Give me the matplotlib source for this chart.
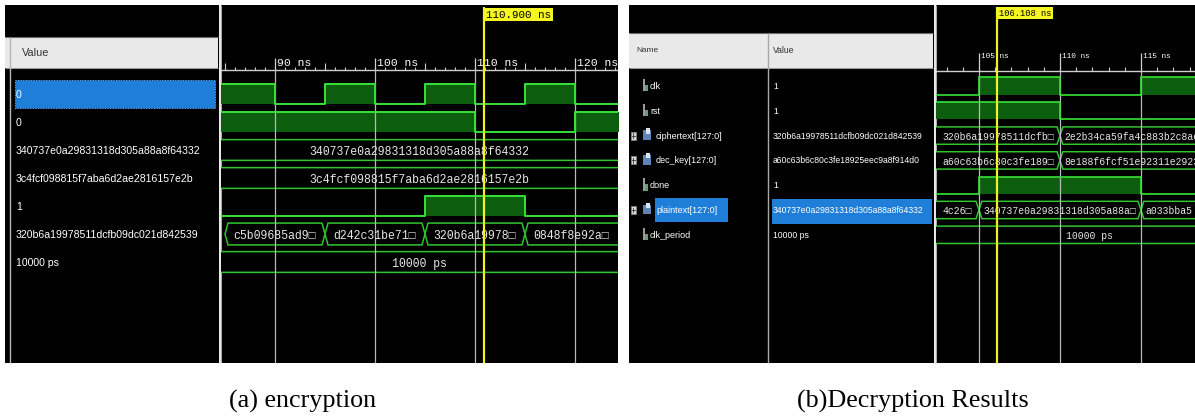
import numpy as np
import matplotlib
matplotlib.use("Agg")
import matplotlib.pyplot as plt
from matplotlib.patches import Rectangle, Polygon

# ---------------- (a) encryption ----------------
enc_values = ["0", "0", "340737e0a29831318d305a88a8f64332",
              "3c4fcf098815f7aba6d2ae2816157e2b", "1",
              "320b6a19978511dcfb09dc021d842539", "10000 ps"]
enc_clk_t = [80, 90, 95, 100, 105, 110, 115, 120, 130]
enc_clk_v = [1, 0, 1, 0, 1, 0, 1, 0]
enc_rst_t = [80, 110, 120, 130]
enc_rst_v = [1, 0, 1]
enc_done_t = [80, 105, 115, 130]
enc_done_v = [0, 1, 0]
enc_plain_t = [80, 130]
enc_plain_lbl = ["340737e0a29831318d305a88a8f64332"]
enc_key_t = [80, 130]
enc_key_lbl = ["3c4fcf098815f7aba6d2ae2816157e2b"]
enc_cipher_t = [85, 95, 105, 115, 125]
enc_cipher_lbl = ["c5b09685ad9\u25a1", "d242c31be71\u25a1",
                  "320b6a19978\u25a1", "0848f8e92a\u25a1"]
enc_period_t = [80, 130]
enc_period_lbl = ["10000 ps"]
enc_ticks = [90, 100, 110, 120]
enc_cursor = 110.9

# ---------------- (b) decryption ----------------
dec_names = ["clk", "rst", "ciphertext[127:0]", "dec_key[127:0]", "done",
             "plaintext[127:0]", "clk_period"]
dec_values = ["1", "1", "320b6a19978511dcfb09dc021d842539",
              "a60c63b6c80c3fe18925eec9a8f914d0", "1",
              "340737e0a29831318d305a88a8f64332", "10000 ps"]
dec_is_bus = [False, False, True, True, False, True, False]
dec_clk_t = [100, 105, 110, 115, 120, 125]
dec_clk_v = [0, 1, 0, 1, 0]
dec_rst_t = [100, 110, 125]
dec_rst_v = [1, 0]
dec_done_t = [100, 105, 115, 125]
dec_done_v = [0, 1, 0]
dec_cipher_t = [95, 110, 125]
dec_cipher_lbl = ["320b6a19978511dcfb\u25a1", "2e2b34ca59fa4c883b2c8ae"]
dec_key_t = [95, 110, 125]
dec_key_lbl = ["a60c63b6c80c3fe189\u25a1", "8e188f6fcf51e92311e2923"]
dec_plain_t = [95, 105, 115, 125]
dec_plain_lbl = ["4c26\u25a1", "340737e0a29831318d305a88a\u25a1", "a033bba5"]
dec_period_t = [95, 125]
dec_period_lbl = ["10000 ps"]
dec_ticks = [105, 110, 115]
dec_cursor = 106.108

# ---------------- styling ----------------
W, H = 1195, 417
SANS = ["Liberation Sans", "DejaVu Sans"]
MONO = ["Liberation Mono", "DejaVu Sans Mono"]
SERIF = ["Liberation Serif", "DejaVu Serif"]
LINE_G = "#36e236"
FILL_G = "#0c5e0e"
BUS_G = "#2fc52f"
RULER_C = "#cfcfcf"
GRID_C = "#b8b8b8"
CURSOR_C = "#f2f21c"
WAVE_TXT = "#e6e6e6"

fig = plt.figure(figsize=(W / 100, H / 100), dpi=100)
fig.patch.set_facecolor("white")


def px_axes(x0, y0, x1, y1):
    ax = fig.add_axes([x0 / W, 1 - y1 / H, (x1 - x0) / W, (y1 - y0) / H])
    ax.set_axis_off()
    return ax


canvas = px_axes(0, 0, W, H)
canvas.set_xlim(0, W)
canvas.set_ylim(H, 0)


def rect(x0, y0, x1, y1, **kw):
    kw.setdefault("lw", 0)
    canvas.add_patch(Rectangle((x0, y0), x1 - x0, y1 - y0, **kw))


def hline(x0, x1, y, **kw):
    canvas.plot([x0, x1], [y, y], solid_capstyle="butt", **kw)


def vline(x, y0, y1, **kw):
    canvas.plot([x, x], [y0, y1], solid_capstyle="butt", **kw)


# window chrome for (a)
rect(5, 5, 219, 363, fc="black")
rect(5, 37, 218, 68, fc="#e9e9e9")
hline(5, 218, 36.5, color="#6a6a6a", lw=0.8)
hline(5, 218, 68, color="#9a9a9a", lw=0.8)
vline(10, 37, 363, color="#b8b8b8", lw=1.0)
vline(219.8, 5, 363, color="#e4e4e4", lw=1.8)
rect(221, 5, 618, 363, fc="black")
canvas.text(22, 52.5, "Value", color="#333333", fontsize=7.8, family=SANS, va="center")

# window chrome for (b)
rect(629, 5, 934, 363, fc="black")
rect(629, 33, 933, 68, fc="#e9e9e9")
hline(629, 933, 32.5, color="#6a6a6a", lw=0.8)
hline(629, 933, 68, color="#9a9a9a", lw=0.8)
vline(768, 33, 363, color="#a8a8a8", lw=1.0)
vline(934.8, 5, 363, color="#e4e4e4", lw=1.8)
rect(936, 5, W, 363, fc="black")
canvas.text(636, 50.5, "Name", color="#333333", fontsize=6.0, family=SANS, va="center")
canvas.text(773, 50.5, "Value", color="#333333", fontsize=6.2, family=SANS, va="center")

# captions
canvas.text(303, 401, "(a) encryption", ha="center", va="center", fontsize=18.8, family=SERIF)
canvas.text(913, 401, "(b)Decryption Results", ha="center", va="center", fontsize=18.8, family=SERIF)


# ---------------- helpers for the wave views ----------------
def draw_bit(ax, row, t, v, h, lw=1.4):
    t = np.asarray(t, float)
    lv = np.append(np.asarray(v, float), v[-1])
    y = row + h - 2 * h * lv
    ax.fill_between(t, row + h, y, step="post", color=FILL_G, lw=0)
    ax.step(t, y, where="post", color=LINE_G, lw=lw)


def draw_bus(ax, row, t, labels, h, slope, pad, fontsize, lw=1.1):
    v0, v1 = ax.get_xlim()
    for t0, t1, lbl in zip(t[:-1], t[1:], labels):
        pts = [(t0, row), (t0 + slope, row - h), (t1 - slope, row - h),
               (t1, row), (t1 - slope, row + h), (t0 + slope, row + h)]
        ax.add_patch(Polygon(pts, closed=True, fc="black", ec=BUS_G, lw=lw))
        vs, ve = max(t0, v0), min(t1, v1)
        if t0 >= v0 and t1 > v1:
            x, ha = t0 + pad, "left"
        else:
            x, ha = (vs + ve) / 2, "center"
        ax.text(x, row + 0.02, lbl, ha=ha, va="center_baseline", color=WAVE_TXT,
                fontsize=fontsize, family=MONO, clip_on=True)


def draw_ruler(ax, base, ticks, minor_top, mid_top, major_top, lab_y, lab_dx, fontsize, bottom):
    v0, v1 = ax.get_xlim()
    ax.plot([v0, v1], [base, base], color=RULER_C, lw=1.0)
    minor = np.arange(np.ceil(v0), np.floor(v1) + 1)
    ax.vlines(minor, minor_top, base, color=RULER_C, lw=0.8)
    if mid_top is not None:
        mids = [m for m in minor if m % 5 == 0 and m % 10 != 0]
        ax.vlines(mids, mid_top, base, color=RULER_C, lw=0.8)
    ax.vlines(ticks, major_top, base, color=RULER_C, lw=0.9)
    ax.vlines(ticks, base, bottom, color=GRID_C, lw=0.9)
    for tk in ticks:
        ax.text(tk + lab_dx, lab_y, f"{tk} ns", color="white", fontsize=fontsize,
                family=MONO, va="center", ha="left", clip_on=True)


def draw_cursor(ax, t, top, lab_y, dx, fontsize, bottom):
    ax.vlines([t], top, bottom, color=CURSOR_C, lw=1.6, zorder=5)
    ax.text(t + dx, lab_y, f"{t:.3f} ns", color="black", fontsize=fontsize, family=MONO,
            ha="left", va="center", zorder=6,
            bbox=dict(boxstyle="square,pad=0.18", fc="#f6f622", ec="none"))


# ---------------- (a) value list ----------------
def ra(y):  # panel (a) row units from pixel height
    return (y - 94) / 28.0


A_TOP, A_BOT = ra(5), ra(363)
la = px_axes(5, 5, 219, 363)
la.set_xlim(5, 219)
la.set_ylim(A_BOT, A_TOP)
la.add_patch(Rectangle((15, -0.5), 200, 1.0, fc="#1f7fd8", ec="#7ab8ff", lw=0.7, ls=":"))
for i, val in enumerate(enc_values):
    la.text(16, i + 0.04, val, color="white", fontsize=7.6, family=SANS, va="center")

# ---------------- (a) waves ----------------
wa = px_axes(221, 5, 618, 363)
wa.set_xlim(84.6, 124.3)
wa.set_ylim(A_BOT, A_TOP)
ha_ = 0.37
draw_ruler(wa, ra(70), enc_ticks, ra(67), ra(63), ra(58), ra(62.5), 0.2, 8.2, A_BOT)
draw_bit(wa, 0, enc_clk_t, enc_clk_v, ha_)
draw_bit(wa, 1, enc_rst_t, enc_rst_v, ha_)
draw_bus(wa, 2, enc_plain_t, enc_plain_lbl, ha_, 0.3, 0.7, 8.3)
draw_bus(wa, 3, enc_key_t, enc_key_lbl, ha_, 0.3, 0.7, 8.3)
draw_bit(wa, 4, enc_done_t, enc_done_v, ha_)
draw_bus(wa, 5, enc_cipher_t, enc_cipher_lbl, 0.39, 0.3, 0.8, 8.3)
draw_bus(wa, 6, enc_period_t, enc_period_lbl, ha_, 0.3, 0.7, 8.3)
draw_cursor(wa, enc_cursor, ra(7), ra(14.5), 0.22, 7.8, A_BOT)


# ---------------- (b) name / value list ----------------
def rb(y):  # panel (b) row units from pixel height
    return (y - 86) / 24.8


B_TOP, B_BOT = rb(5), rb(363)
lb = px_axes(629, 5, 934, 363)
lb.set_xlim(629, 934)
lb.set_ylim(B_BOT, B_TOP)
sel = 5
lb.add_patch(Rectangle((655, sel - 0.5), 73, 0.98, fc="#1f7fd8", lw=0))
lb.add_patch(Rectangle((772, sel - 0.45), 160, 1.0, fc="#1f7fd8", lw=0))
for i, (name, val, bus) in enumerate(zip(dec_names, dec_values, dec_is_bus)):
    if bus:
        lb.add_patch(Rectangle((630.5, i - 0.16), 5, 0.32, fc="#d8d8d8", ec="#8a8a8a", lw=0.5))
        lb.plot([631.5, 634.5], [i, i], color="#333333", lw=0.6)
        lb.plot([633, 633], [i - 0.1, i + 0.1], color="#333333", lw=0.6)
        lb.add_patch(Rectangle((643, i - 0.22), 8, 0.4, fc="#5d83b8", lw=0))
        lb.add_patch(Rectangle((646, i - 0.3), 4, 0.22, fc="#d9e6f5", lw=0))
        nx = 656
    else:
        lb.add_patch(Rectangle((643, i - 0.28), 2.2, 0.5, fc="#9a9a9a", lw=0))
        lb.add_patch(Rectangle((645.2, i - 0.05), 2.6, 0.27, fc="#6a9a7a", lw=0))
        nx = 650
    lb.text(nx, i + 0.02, name, color="white", fontsize=6.5, family=SANS, va="center")
    lb.text(773, i + 0.02, val, color="white", fontsize=6.2, family=SANS, va="center")

# ---------------- (b) waves ----------------
wb = px_axes(936, 5, 1243, 363)
wb.set_xlim(102.35, 121.3)
wb.set_ylim(B_BOT, B_TOP)
hb = 0.35
draw_ruler(wb, rb(71), dec_ticks, rb(67), None, rb(53), rb(57), 0.12, 5.6, B_BOT)
draw_bit(wb, 0, dec_clk_t, dec_clk_v, hb, lw=1.2)
draw_bit(wb, 1, dec_rst_t, dec_rst_v, hb, lw=1.2)
draw_bus(wb, 2, dec_cipher_t, dec_cipher_lbl, hb, 0.18, 0.3, 7.0)
draw_bus(wb, 3, dec_key_t, dec_key_lbl, hb, 0.18, 0.3, 7.0)
draw_bit(wb, 4, dec_done_t, dec_done_v, hb, lw=1.2)
draw_bus(wb, 5, dec_plain_t, dec_plain_lbl, hb, 0.18, 0.3, 7.0)
draw_bus(wb, 6, dec_period_t, dec_period_lbl, hb, 0.18, 0.3, 7.0)
draw_cursor(wb, dec_cursor, rb(7), rb(13), 0.15, 6.3, B_BOT)

fig.savefig("out.png", dpi=100, facecolor="white")
